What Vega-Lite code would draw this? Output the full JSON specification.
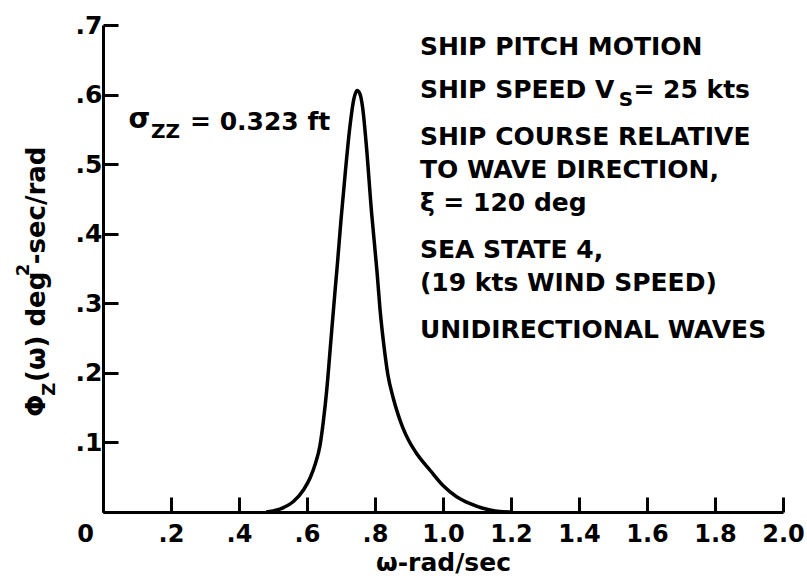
{
  "$schema": "https://vega.github.io/schema/vega-lite/v6.json",
  "width": 680,
  "height": 487,
  "autosize": {"type": "none"},
  "padding": {"left": 103, "top": 25, "right": 24, "bottom": 76},
  "background": "white",
  "config": {
    "view": {"stroke": null},
    "font": "DejaVu Sans",
    "text": {"font": "DejaVu Sans", "fontWeight": "bold", "color": "black"}
  },
  "layer": [
    {
      "data": {"values": [
        {"w": 0.48, "phi": 0.0},
        {"w": 0.52, "phi": 0.004},
        {"w": 0.56, "phi": 0.015},
        {"w": 0.59, "phi": 0.032},
        {"w": 0.61, "phi": 0.05},
        {"w": 0.625, "phi": 0.07},
        {"w": 0.638, "phi": 0.095},
        {"w": 0.648, "phi": 0.13},
        {"w": 0.658, "phi": 0.175},
        {"w": 0.67, "phi": 0.245},
        {"w": 0.682, "phi": 0.315},
        {"w": 0.69, "phi": 0.36},
        {"w": 0.70, "phi": 0.42},
        {"w": 0.713, "phi": 0.49},
        {"w": 0.726, "phi": 0.553},
        {"w": 0.738, "phi": 0.594},
        {"w": 0.747, "phi": 0.606},
        {"w": 0.755, "phi": 0.602},
        {"w": 0.764, "phi": 0.58},
        {"w": 0.774, "phi": 0.53},
        {"w": 0.79, "phi": 0.43},
        {"w": 0.806, "phi": 0.345},
        {"w": 0.815, "phi": 0.29},
        {"w": 0.826, "phi": 0.24},
        {"w": 0.838, "phi": 0.197},
        {"w": 0.853, "phi": 0.165},
        {"w": 0.868, "phi": 0.140},
        {"w": 0.882, "phi": 0.121},
        {"w": 0.90, "phi": 0.102},
        {"w": 0.924, "phi": 0.083},
        {"w": 0.962, "phi": 0.06},
        {"w": 1.0, "phi": 0.038},
        {"w": 1.04, "phi": 0.022},
        {"w": 1.08, "phi": 0.012},
        {"w": 1.12, "phi": 0.005},
        {"w": 1.16, "phi": 0.001},
        {"w": 1.20, "phi": 0.0}
      ]},
      "mark": {"type": "line", "color": "black", "strokeWidth": 3.5, "interpolate": "monotone"},
      "encoding": {
        "x": {
          "field": "w", "type": "quantitative",
          "scale": {"domain": [0, 2], "nice": false, "zero": false},
          "axis": {
            "values": [0, 0.2, 0.4, 0.6, 0.8, 1.0, 1.2, 1.4, 1.6, 1.8, 2.0],
            "labelExpr": "datum.value == 0 ? '0' : datum.value < 1 ? replace(format(datum.value, '.1f'), '0.', '.') : format(datum.value, '.1f')",
            "grid": false,
            "domainColor": "black", "domainWidth": 3,
            "tickColor": "black", "tickWidth": 3, "tickSize": -15,
            "labelFont": "DejaVu Sans", "labelFontWeight": "bold", "labelFontSize": 24, "labelColor": "black",
            "labelPadding": 25,
            "labelOffset": {"condition": {"test": "datum.value == 0", "value": -18}, "value": 0},
            "labelFlush": false, "labelOverlap": false,
            "title": "ω-rad/sec",
            "titleFont": "DejaVu Sans", "titleFontWeight": "bold", "titleFontSize": 25, "titleColor": "black",
            "titlePadding": 4
          }
        },
        "y": {
          "field": "phi", "type": "quantitative",
          "scale": {"domain": [0, 0.7], "nice": false, "zero": false},
          "axis": {
            "values": [0, 0.1, 0.2, 0.3, 0.4, 0.5, 0.6, 0.7],
            "labelExpr": "datum.value == 0 ? '' : replace(format(datum.value, '.1f'), '0.', '.')",
            "grid": false,
            "domainColor": "black", "domainWidth": 3,
            "tickColor": "black", "tickWidth": 3, "tickSize": -15,
            "labelFont": "DejaVu Sans", "labelFontWeight": "bold", "labelFontSize": 25, "labelColor": "black",
            "labelPadding": 16,
            "labelFlush": false, "labelOverlap": false,
            "title": null
          }
        }
      }
    },
    {
      "data": {"values": [
        {"w": 0.932, "phi": 0.668, "t": "SHIP PITCH MOTION"},
        {"w": 0.932, "phi": 0.607, "t": "SHIP SPEED V"},
        {"w": 1.56, "phi": 0.607, "t": "= 25 kts"},
        {"w": 0.932, "phi": 0.539, "t": "SHIP COURSE RELATIVE"},
        {"w": 0.932, "phi": 0.492, "t": "TO WAVE DIRECTION,"},
        {"w": 0.932, "phi": 0.444, "t": "ξ = 120 deg"},
        {"w": 0.932, "phi": 0.377, "t": "SEA STATE 4,"},
        {"w": 0.932, "phi": 0.329, "t": "(19 kts WIND SPEED)"},
        {"w": 0.932, "phi": 0.262, "t": "UNIDIRECTIONAL WAVES"},
        {"w": 0.256, "phi": 0.561, "t": "= 0.323 ft"}
      ]},
      "mark": {"type": "text", "align": "left", "baseline": "middle", "fontSize": 25},
      "encoding": {
        "x": {"field": "w", "type": "quantitative"},
        "y": {"field": "phi", "type": "quantitative"},
        "text": {"field": "t"}
      }
    },
    {
      "data": {"values": [
        {"w": 0.075, "phi": 0.563, "t": "σ"}
      ]},
      "mark": {"type": "text", "align": "left", "baseline": "middle", "fontSize": 28},
      "encoding": {
        "x": {"field": "w", "type": "quantitative"},
        "y": {"field": "phi", "type": "quantitative"},
        "text": {"field": "t"}
      }
    },
    {
      "data": {"values": [
        {"w": 1.517, "phi": 0.592, "t": "S"},
        {"w": 0.141, "phi": 0.546, "t": "ZZ"}
      ]},
      "mark": {"type": "text", "align": "left", "baseline": "middle", "fontSize": 20},
      "encoding": {
        "x": {"field": "w", "type": "quantitative"},
        "y": {"field": "phi", "type": "quantitative"},
        "text": {"field": "t"}
      }
    },
    {
      "data": {"values": [
        {"w": -0.194, "phi": 0.137, "t": "Φ"},
        {"w": -0.194, "phi": 0.187, "t": "(ω) deg"},
        {"w": -0.194, "phi": 0.356, "t": "-sec/rad"}
      ]},
      "mark": {"type": "text", "align": "left", "baseline": "middle", "fontSize": 26, "angle": 270},
      "encoding": {
        "x": {"field": "w", "type": "quantitative"},
        "y": {"field": "phi", "type": "quantitative"},
        "text": {"field": "t"}
      }
    },
    {
      "data": {"values": [
        {"w": -0.156, "phi": 0.167, "t": "Z"},
        {"w": -0.232, "phi": 0.339, "t": "2"}
      ]},
      "mark": {"type": "text", "align": "left", "baseline": "middle", "fontSize": 18, "angle": 270},
      "encoding": {
        "x": {"field": "w", "type": "quantitative"},
        "y": {"field": "phi", "type": "quantitative"},
        "text": {"field": "t"}
      }
    }
  ]
}
